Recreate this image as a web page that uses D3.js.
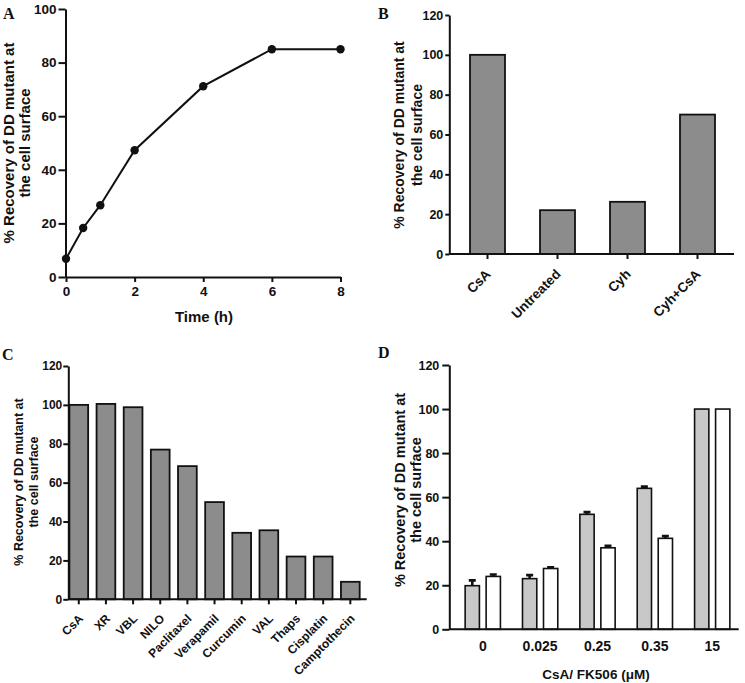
<!DOCTYPE html>
<html>
<head>
<meta charset="utf-8">
<script src="https://cdn.jsdelivr.net/npm/d3@7"></script>
<style>
  html, body { margin: 0; padding: 0; background: #fff; }
  svg { display: block; }
  text { font-family: Arial, "Liberation Sans", sans-serif; font-weight: bold; fill: #111; }
  .plabel { font-family: "Times New Roman", "Liberation Serif", serif; font-weight: bold; }
</style>
</head>
<body>
<script>
// ---------- DATA ----------
const timeH = [0, 0.5, 1, 2, 4, 6, 8];
const recoveryA = [6.8, 18.3, 26.8, 47.3, 71.2, 85, 85];
const xTicksA = [0, 2, 4, 6, 8];
const yTicksA = [0, 20, 40, 60, 80, 100];

const treatmentsB = ["CsA", "Untreated", "Cyh", "Cyh+CsA"];
const recoveryB = [100, 22, 26.2, 70];

const compoundsC = ["CsA", "XR", "VBL", "NILO", "Paclitaxel", "Verapamil", "Curcumin", "VAL", "Thaps", "Cisplatin", "Camptothecin"];
const recoveryC = [100, 100.5, 98.8, 77, 68.5, 50, 34.2, 35.5, 22, 22, 9];

const dosesD = ["0", "0.025", "0.25", "0.35", "15"];
const seriesD = ["CsA", "FK506"];
const csaD = [19.8, 23, 52.2, 64, 100];
const csaErrD = [2.4, 1.6, 1.0, 0.8, 0];
const fk506D = [24, 27.6, 37, 41.3, 100];
const fk506ErrD = [0.9, 0.6, 0.9, 1.0, 0];

const yTicks120 = [0, 20, 40, 60, 80, 100, 120];
const yLabelLines = ["% Recovery of DD mutant at", "the cell surface"];

// ---------- SVG ----------
const svg = d3.select("body").append("svg").attr("width", 745).attr("height", 683);
svg.append("rect").attr("width", 745).attr("height", 683).attr("fill", "#fff");

function styleAxis(g, fontSize) {
  g.attr("font-size", null).attr("font-family", null);
  g.selectAll(".domain").attr("stroke", "#111").attr("stroke-width", 2);
  g.selectAll(".tick line").attr("stroke", "#111").attr("stroke-width", 2);
  g.selectAll(".tick text").style("font-size", fontSize + "px").attr("fill", "#111");
}

function yLabel(cx1, cx2, cy, size) {
  [cx1, cx2].forEach((cx, i) => {
    svg.append("text")
      .attr("transform", `translate(${cx},${cy}) rotate(-90)`)
      .attr("text-anchor", "middle").attr("dy", "0.35em")
      .style("font-size", size + "px")
      .text(yLabelLines[i]);
  });
}

function panelLabel(t, x, y) {
  svg.append("text").attr("class", "plabel").attr("x", x).attr("y", y)
    .style("font-size", "16px").text(t);
}

// rotated category labels drawn at band centers
function rotatedLabels(scale, cats, y0, dx, dy, size) {
  svg.append("g").selectAll("text").data(cats).enter().append("text")
    .attr("text-anchor", "end")
    .attr("transform", d => `translate(${scale(d) + scale.bandwidth() / 2 + dx},${y0 + dy}) rotate(-45)`)
    .style("font-size", size + "px")
    .text(d => d);
}

// ---------- PANEL A ----------
{
  const x = d3.scaleLinear().domain([0, 8]).range([66, 340.5]);
  const y = d3.scaleLinear().domain([0, 100]).range([277, 9]);
  const gx = svg.append("g").attr("transform", "translate(0,277)")
    .call(d3.axisBottom(x).tickValues(xTicksA).tickSize(5).tickSizeOuter(0).tickPadding(4));
  styleAxis(gx, 13.5);
  const gy = svg.append("g").attr("transform", "translate(65.5,0)")
    .call(d3.axisLeft(y).tickValues(yTicksA).tickSize(7).tickSizeOuter(0).tickPadding(2));
  styleAxis(gy, 13.5);
  const line = d3.line().x((d, i) => x(timeH[i])).y(d => y(d));
  svg.append("path").datum(recoveryA).attr("d", line)
    .attr("fill", "none").attr("stroke", "#111").attr("stroke-width", 2);
  svg.selectAll(".ptA").data(recoveryA).enter().append("circle")
    .attr("cx", (d, i) => x(timeH[i])).attr("cy", d => y(d)).attr("r", 4.2).attr("fill", "#111");
  svg.append("text").attr("x", 204).attr("y", 322).attr("text-anchor", "middle")
    .style("font-size", "15px").text("Time (h)");
  yLabel(9, 25, 143, 15);
  panelLabel("A", 3, 19);
}

// ---------- PANEL B ----------
{
  const y0 = 254;
  const x = d3.scaleBand().domain(treatmentsB).range([452.5, 732.5]).paddingInner(0.5).paddingOuter(0.25);
  const y = d3.scaleLinear().domain([0, 120]).range([y0, 15]);
  svg.selectAll(".barB").data(recoveryB).enter().append("rect")
    .attr("x", (d, i) => x(treatmentsB[i])).attr("width", x.bandwidth())
    .attr("y", d => y(d)).attr("height", d => y0 - y(d))
    .attr("fill", "#8c8c8c").attr("stroke", "#111").attr("stroke-width", 1.8);
  const gx = svg.append("g").attr("transform", `translate(0,${y0})`)
    .call(d3.axisBottom(x).tickSize(5).tickSizeOuter(0).tickFormat(""));
  gx.select(".domain").remove();
  styleAxis(gx, 13.5);
  svg.append("line").attr("x1", 449.3).attr("x2", 734).attr("y1", y0).attr("y2", y0)
    .attr("stroke", "#111").attr("stroke-width", 2);
  rotatedLabels(x, treatmentsB, y0, 4, 21, 13.5);
  const gy = svg.append("g").attr("transform", "translate(449.3,0)")
    .call(d3.axisLeft(y).tickValues(yTicks120).tickSize(4).tickSizeOuter(0).tickPadding(2));
  styleAxis(gy, 12.5);
  yLabel(399, 417, 135, 14);
  panelLabel("B", 378, 19);
}

// ---------- PANEL C ----------
{
  const y0 = 599.3;
  const x = d3.scaleBand().domain(compoundsC).range([65.2, 363.9]).paddingInner(0.31).paddingOuter(0.155);
  const y = d3.scaleLinear().domain([0, 120]).range([y0, 366]);
  svg.selectAll(".barC").data(recoveryC).enter().append("rect")
    .attr("x", (d, i) => x(compoundsC[i])).attr("width", x.bandwidth())
    .attr("y", d => y(d)).attr("height", d => y0 - y(d))
    .attr("fill", "#8c8c8c").attr("stroke", "#111").attr("stroke-width", 1.8);
  const gx = svg.append("g").attr("transform", `translate(0,${y0})`)
    .call(d3.axisBottom(x).tickSize(5).tickSizeOuter(0).tickFormat(""));
  gx.select(".domain").remove();
  styleAxis(gx, 12);
  svg.append("line").attr("x1", 68.3).attr("x2", 366.7).attr("y1", y0).attr("y2", y0)
    .attr("stroke", "#111").attr("stroke-width", 2);
  rotatedLabels(x, compoundsC, y0, 5, 20, 12);
  const gy = svg.append("g").attr("transform", "translate(68.3,0)")
    .call(d3.axisLeft(y).tickValues(yTicks120).tickSize(5).tickSizeOuter(0).tickPadding(1));
  styleAxis(gy, 12);
  yLabel(19, 34, 482, 12.5);
  panelLabel("C", 2, 360);
}

// ---------- PANEL D ----------
{
  const y0 = 629.3;
  const x0 = d3.scaleBand().domain(dosesD).range([454.1, 740.9]).paddingInner(0.385).paddingOuter(0.1925);
  const x1 = d3.scaleBand().domain(seriesD).range([0, x0.bandwidth()]).paddingInner(0.32).paddingOuter(0);
  const y = d3.scaleLinear().domain([0, 120]).range([y0, 365]);
  const fills = { "CsA": "#c8c8c8", "FK506": "#ffffff" };
  const vals = { "CsA": csaD, "FK506": fk506D };
  const errs = { "CsA": csaErrD, "FK506": fk506ErrD };
  seriesD.forEach(s => {
    const g = svg.append("g");
    const rows = vals[s].map((v, i) => ({ v, e: errs[s][i], dose: dosesD[i] }));
    g.selectAll(".err").data(rows.filter(r => r.e > 0)).enter().append("path")
      .attr("d", r => {
        const cx = x0(r.dose) + x1(s) + x1.bandwidth() / 2;
        const top = y(r.v + r.e);
        return `M${cx},${y(r.v)}V${top}M${cx - 3.5},${top}H${cx + 3.5}`;
      })
      .attr("stroke", "#111").attr("stroke-width", 2.6).attr("fill", "none");
    g.selectAll(".bar").data(rows).enter().append("rect")
      .attr("x", r => x0(r.dose) + x1(s)).attr("width", x1.bandwidth())
      .attr("y", r => y(r.v)).attr("height", r => y0 - y(r.v))
      .attr("fill", fills[s]).attr("stroke", "#111").attr("stroke-width", 1.6);
  });
  const gx = svg.append("g").attr("transform", `translate(0,${y0})`)
    .call(d3.axisBottom(x0).tickSize(0).tickSizeOuter(0).tickPadding(12));
  gx.select(".domain").remove();
  styleAxis(gx, 14);
  svg.append("line").attr("x1", 449.3).attr("x2", 738.7).attr("y1", y0).attr("y2", y0)
    .attr("stroke", "#111").attr("stroke-width", 2);
  const gy = svg.append("g").attr("transform", "translate(449.3,0)")
    .call(d3.axisLeft(y).tickValues(yTicks120).tickSize(7).tickSizeOuter(0).tickPadding(3));
  styleAxis(gy, 12.5);
  svg.append("text").attr("x", 596).attr("y", 679).attr("text-anchor", "middle")
    .style("font-size", "13.5px").text("CsA/ FK506 (\u03bcM)");
  yLabel(400, 416, 490, 14.5);
  panelLabel("D", 378, 358);
}
</script>
</body>
</html>
